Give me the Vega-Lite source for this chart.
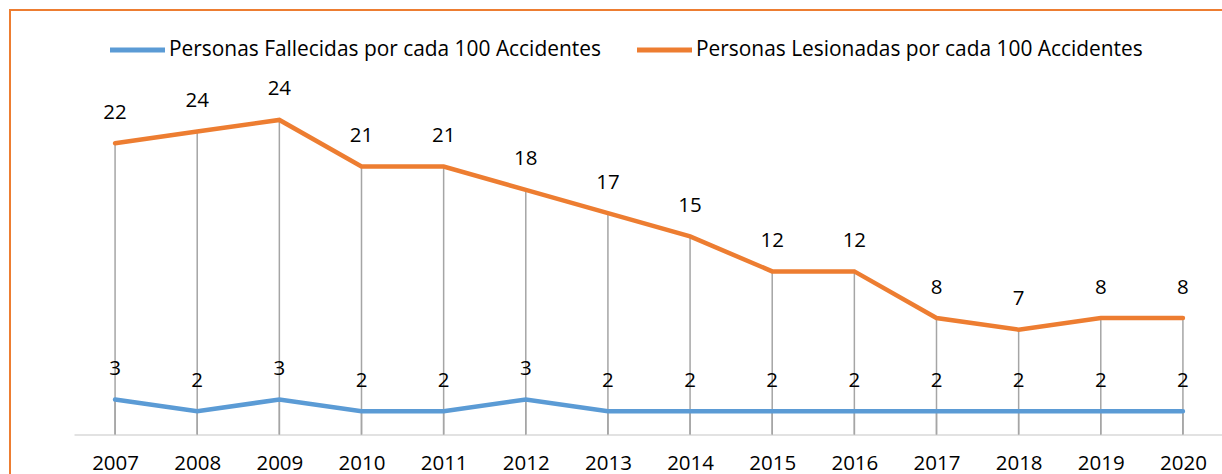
{
  "$schema": "https://vega.github.io/schema/vega-lite/v6.json",
  "width": 1213,
  "height": 465,
  "autosize": {"type": "none"},
  "padding": {"left": 10, "top": 10, "right": -1, "bottom": -1},
  "background": "white",
  "config": {
    "view": {"stroke": "#ED7D31", "strokeWidth": 2},
    "font": "Open Sans"
  },
  "data": {
    "values": [
      {"anio": "2007", "serie": "Personas Fallecidas por cada 100 Accidentes", "valor": 3},
      {"anio": "2008", "serie": "Personas Fallecidas por cada 100 Accidentes", "valor": 2},
      {"anio": "2009", "serie": "Personas Fallecidas por cada 100 Accidentes", "valor": 3},
      {"anio": "2010", "serie": "Personas Fallecidas por cada 100 Accidentes", "valor": 2},
      {"anio": "2011", "serie": "Personas Fallecidas por cada 100 Accidentes", "valor": 2},
      {"anio": "2012", "serie": "Personas Fallecidas por cada 100 Accidentes", "valor": 3},
      {"anio": "2013", "serie": "Personas Fallecidas por cada 100 Accidentes", "valor": 2},
      {"anio": "2014", "serie": "Personas Fallecidas por cada 100 Accidentes", "valor": 2},
      {"anio": "2015", "serie": "Personas Fallecidas por cada 100 Accidentes", "valor": 2},
      {"anio": "2016", "serie": "Personas Fallecidas por cada 100 Accidentes", "valor": 2},
      {"anio": "2017", "serie": "Personas Fallecidas por cada 100 Accidentes", "valor": 2},
      {"anio": "2018", "serie": "Personas Fallecidas por cada 100 Accidentes", "valor": 2},
      {"anio": "2019", "serie": "Personas Fallecidas por cada 100 Accidentes", "valor": 2},
      {"anio": "2020", "serie": "Personas Fallecidas por cada 100 Accidentes", "valor": 2},
      {"anio": "2007", "serie": "Personas Lesionadas por cada 100 Accidentes", "valor": 22},
      {"anio": "2008", "serie": "Personas Lesionadas por cada 100 Accidentes", "valor": 24},
      {"anio": "2009", "serie": "Personas Lesionadas por cada 100 Accidentes", "valor": 24},
      {"anio": "2010", "serie": "Personas Lesionadas por cada 100 Accidentes", "valor": 21},
      {"anio": "2011", "serie": "Personas Lesionadas por cada 100 Accidentes", "valor": 21},
      {"anio": "2012", "serie": "Personas Lesionadas por cada 100 Accidentes", "valor": 18},
      {"anio": "2013", "serie": "Personas Lesionadas por cada 100 Accidentes", "valor": 17},
      {"anio": "2014", "serie": "Personas Lesionadas por cada 100 Accidentes", "valor": 15},
      {"anio": "2015", "serie": "Personas Lesionadas por cada 100 Accidentes", "valor": 12},
      {"anio": "2016", "serie": "Personas Lesionadas por cada 100 Accidentes", "valor": 12},
      {"anio": "2017", "serie": "Personas Lesionadas por cada 100 Accidentes", "valor": 8},
      {"anio": "2018", "serie": "Personas Lesionadas por cada 100 Accidentes", "valor": 7},
      {"anio": "2019", "serie": "Personas Lesionadas por cada 100 Accidentes", "valor": 8},
      {"anio": "2020", "serie": "Personas Lesionadas por cada 100 Accidentes", "valor": 8}
    ]
  },
  "transform": [
    {"stack": "valor", "groupby": ["anio"], "sort": [{"field": "serie", "order": "ascending"}], "as": ["v0", "v1"]}
  ],
  "encoding": {
    "x": {
      "field": "anio",
      "type": "ordinal",
      "scale": {"type": "point", "range": [64, 1214], "padding": 0.5},
      "axis": {
        "title": null,
        "orient": "bottom",
        "offset": -40.5,
        "domainColor": "#D9D9D9",
        "domainWidth": 1.5,
        "ticks": false,
        "tickSize": 0,
        "grid": false,
        "labelAngle": 0,
        "labelFont": "Open Sans",
        "labelFontSize": 20.5,
        "labelColor": "#000000",
        "labelPadding": 19
      }
    },
    "y": {
      "field": "v1",
      "type": "quantitative",
      "scale": {"domain": [0, 30], "range": [424.5, 75], "nice": false, "zero": true},
      "axis": null
    }
  },
  "layer": [
    {
      "mark": {"type": "rule", "color": "#A5A5A5", "strokeWidth": 1.5},
      "encoding": {"y2": {"datum": 0}}
    },
    {
      "mark": {"type": "line", "strokeWidth": 4.5, "strokeCap": "round", "strokeJoin": "miter"},
      "encoding": {
        "color": {
          "field": "serie",
          "type": "nominal",
          "scale": {
            "domain": ["Personas Fallecidas por cada 100 Accidentes", "Personas Lesionadas por cada 100 Accidentes"],
            "range": ["#5B9BD5", "#ED7D31"]
          },
          "legend": {
            "orient": "none",
            "legendX": 97.5,
            "legendY": 10,
            "direction": "horizontal",
            "columns": 2,
            "title": null,
            "symbolType": "stroke",
            "symbolStrokeWidth": 5,
            "symbolSize": 3025,
            "labelFont": "Open Sans",
            "labelFontSize": 20.9,
            "labelColor": "#000000",
            "labelOffset": 1.5,
            "columnPadding": 25,
            "labelLimit": 0,
            "padding": 0
          }
        }
      }
    },
    {
      "mark": {"type": "text", "font": "Open Sans", "fontSize": 20.5, "color": "#000000", "align": "center", "baseline": "alphabetic", "dy": -24.5},
      "encoding": {"text": {"field": "valor", "type": "quantitative"}}
    }
  ]
}
